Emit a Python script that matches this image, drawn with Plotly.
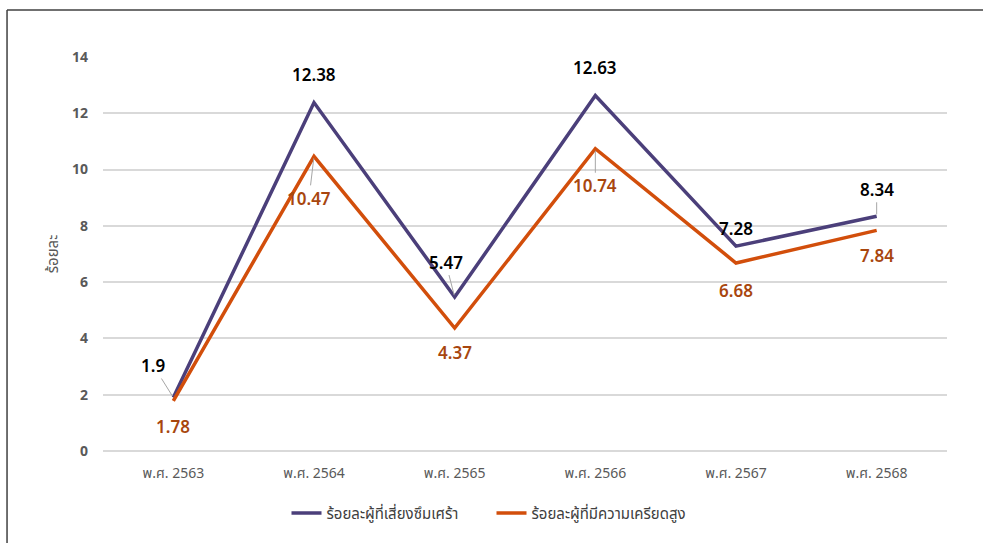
import plotly.graph_objects as go

years = ["พ.ศ. 2563", "พ.ศ. 2564", "พ.ศ. 2565", "พ.ศ. 2566", "พ.ศ. 2567", "พ.ศ. 2568"]
depress = [1.9, 12.38, 5.47, 12.63, 7.28, 8.34]
stress = [1.78, 10.47, 4.37, 10.74, 6.68, 7.84]
name_dep = "ร้อยละผู้ที่เสี่ยงซึมเศร้า"
name_str = "ร้อยละผู้ที่มีความเครียดสูง"

C_DEP = "#4B3F7A"
C_STR = "#D24E0B"
C_STR_TXT = "#A8460E"
FONT = "Noto Sans, Noto Sans Thai, sans-serif"

fig = go.Figure()
fig.add_trace(go.Scatter(x=years, y=depress, mode="lines", name=name_dep,
                         line=dict(color=C_DEP, width=3.5)))
fig.add_trace(go.Scatter(x=years, y=stress, mode="lines", name=name_str,
                         line=dict(color=C_STR, width=3.5)))

# label offsets (pixels) for each point: (ax, ay, leader)
dep_off = [(-20, -32, True), (0, -28, False), (-9, -35, True), (0, -28, False), (0, -18, False), (0, -27, True)]
str_off = [(0, 26, False), (-5, 42, True), (0, 24, False), (0, 37, True), (0, 27, False), (0, 25, False)]

ann = []
for vals, offs, col in ((depress, dep_off, "#000000"), (stress, str_off, C_STR_TXT)):
    for i, v in enumerate(vals):
        ax, ay, leader = offs[i]
        ann.append(dict(x=years[i], y=v, xref="x", yref="y", text=str(v),
                        showarrow=True, arrowhead=0, arrowwidth=1,
                        arrowcolor="#A6A6A6" if leader else "rgba(0,0,0,0)",
                        ax=ax, ay=ay, standoff=2,
                        font=dict(family=FONT, size=17, color=col, weight=600)))

fig.update_layout(
    width=983, height=543,
    margin=dict(l=103, r=36, t=57, b=92),
    paper_bgcolor="white", plot_bgcolor="white",
    font=dict(family=FONT),
    showlegend=True,
    legend=dict(orientation="h", xref="container", yref="container",
                x=0.5, xanchor="center", y=0.055, yanchor="middle",
                font=dict(family=FONT, size=15, color="#404040"),
                itemwidth=30, entrywidth=160, tracegroupgap=0),
    annotations=ann,
    shapes=[
        dict(type="line", xref="paper", yref="paper", x0=-0.1137, x1=1.05, y0=1.119, y1=1.119,
             line=dict(color="#404040", width=1.5)),
        dict(type="line", xref="paper", yref="paper", x0=-0.1137, x1=-0.1137, y0=1.119, y1=-0.25,
             line=dict(color="#404040", width=1.5)),
    ],
)
fig.update_xaxes(showgrid=False, showline=False, zeroline=False, range=[-0.5, 5.5],
                 tickfont=dict(family=FONT, size=14, color="#595959"),
                 ticklabelstandoff=12)
fig.update_yaxes(range=[0, 14], dtick=2, showgrid=True, gridcolor="#D9D9D9", gridwidth=1.5,
                 zeroline=True, zerolinecolor="#D9D9D9", zerolinewidth=1.5,
                 showline=False,
                 tickfont=dict(family=FONT, size=14, color="#595959", weight="bold"),
                 ticklabelstandoff=14,
                 title=dict(text="ร้อยละ", font=dict(family=FONT, size=15, color="#595959"), standoff=9))

fig.write_html("out.html", config={"displayModeBar": False},
               post_script="document.body.style.margin='0';")
